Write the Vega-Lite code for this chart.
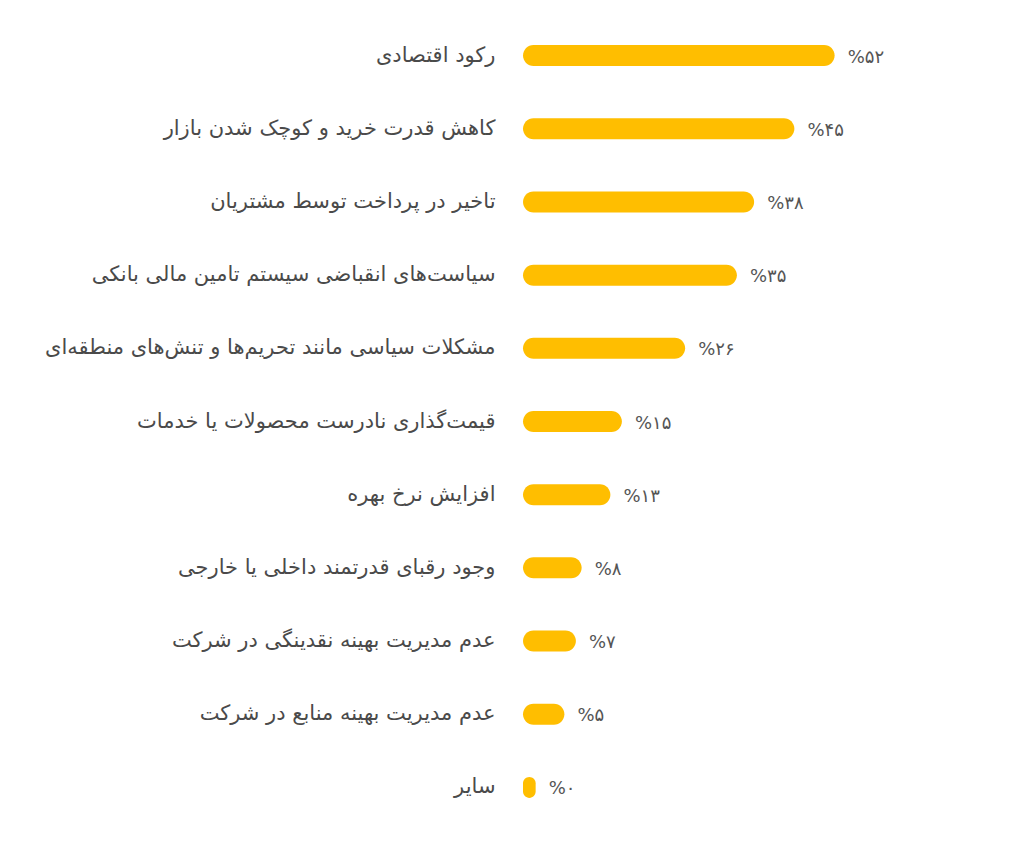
{
  "$schema": "https://vega.github.io/schema/vega-lite/v6.json",
  "width": 400,
  "height": 805,
  "autosize": {"type": "none"},
  "padding": {"left": 523, "top": 19, "right": 101, "bottom": 24},
  "background": "#ffffff",
  "data": {
    "values": [
      {"reason": "رکود اقتصادی", "pct": 52, "label": "%۵۲"},
      {"reason": "کاهش قدرت خرید و کوچک شدن بازار", "pct": 45, "label": "%۴۵"},
      {"reason": "تاخیر در پرداخت توسط مشتریان", "pct": 38, "label": "%۳۸"},
      {"reason": "سیاست‌های انقباضی سیستم تامین مالی بانکی", "pct": 35, "label": "%۳۵"},
      {"reason": "مشکلات سیاسی مانند تحریم‌ها و تنش‌های منطقه‌ای", "pct": 26, "label": "%۲۶"},
      {"reason": "قیمت‌گذاری نادرست محصولات یا خدمات", "pct": 15, "label": "%۱۵"},
      {"reason": "افزایش نرخ بهره", "pct": 13, "label": "%۱۳"},
      {"reason": "وجود رقبای قدرتمند داخلی یا خارجی", "pct": 8, "label": "%۸"},
      {"reason": "عدم مدیریت بهینه نقدینگی در شرکت", "pct": 7, "label": "%۷"},
      {"reason": "عدم مدیریت بهینه منابع در شرکت", "pct": 5, "label": "%۵"},
      {"reason": "سایر", "pct": 0, "label": "%۰"}
    ]
  },
  "encoding": {
    "y": {
      "field": "reason",
      "type": "nominal",
      "sort": null,
      "scale": {"paddingInner": 0, "paddingOuter": 0},
      "axis": {
        "title": null,
        "domain": false,
        "ticks": false,
        "labelPadding": 28,
        "labelLimit": 600,
        "labelFontSize": 21,
        "labelFont": "DejaVu Sans",
        "labelColor": "#4a4a4a"
      }
    }
  },
  "layer": [
    {
      "mark": {"type": "bar", "size": 21, "cornerRadius": 10.5, "color": "#FFBE00"},
      "encoding": {
        "x": {
          "field": "pct",
          "type": "quantitative",
          "scale": {"domain": [-2.2, 67.37], "nice": false, "zero": false},
          "axis": null
        },
        "x2": {"datum": -2.2}
      }
    },
    {
      "mark": {"type": "text", "align": "left", "baseline": "middle", "dx": 13, "dy": 2, "fontSize": 18, "font": "DejaVu Sans", "color": "#555555"},
      "encoding": {
        "x": {"field": "pct", "type": "quantitative"},
        "text": {"field": "label"}
      }
    }
  ],
  "config": {"view": {"stroke": null}}
}
